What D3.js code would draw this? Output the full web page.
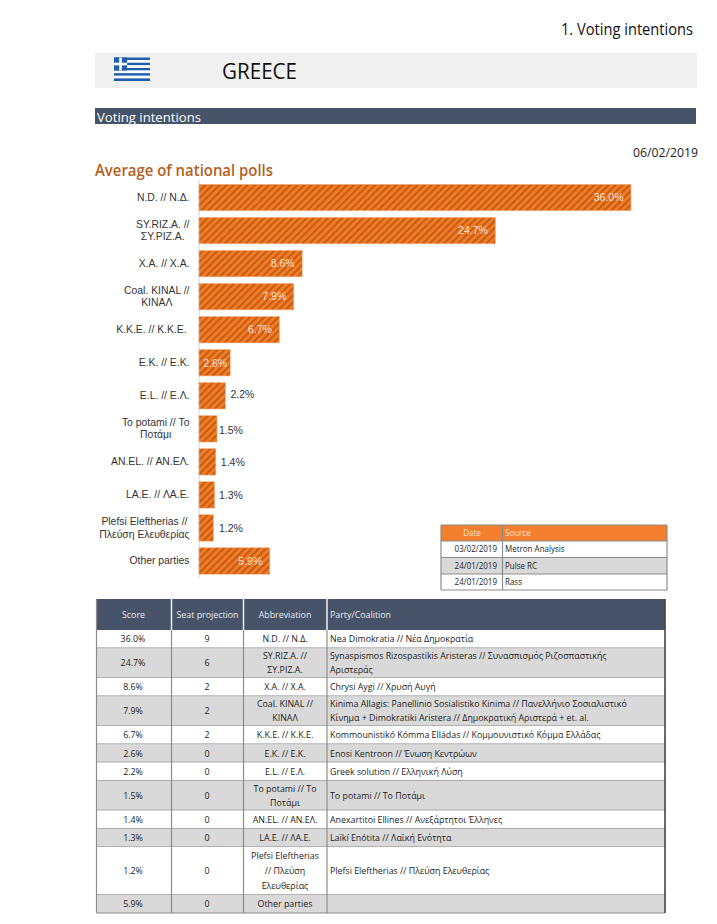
<!DOCTYPE html>
<html><head><meta charset="utf-8">
<script src="https://cdnjs.cloudflare.com/ajax/libs/d3/7.8.5/d3.min.js"></script>
<style>html,body{margin:0;padding:0;background:#fff}svg{display:block}text{white-space:pre}</style>
</head><body><div id="c"></div>
<script>
const barLabels = [["N.D. // Ν.Δ."],["SY.RIZ.A. //","ΣΥ.ΡΙΖ.Α."],["X.A. // Χ.Α."],["Coal. KINAL //","ΚΙΝΑΛ"],["K.K.E. // Κ.Κ.Ε. "],["E.K. // Ε.Κ."],["E.L. // Ε.Λ."],["To potami // Το","Ποτάμι"],["AN.EL. // ΑΝ.ΕΛ."],["LA.E. // ΛΑ.Ε."],["Plefsi Eleftherias //","Πλεύση Ελευθερίας"],["Other parties"]];
const scores = [36.0,24.7,8.6,7.9,6.7,2.6,2.2,1.5,1.4,1.3,1.2,5.9];
const seats = [9,6,2,2,2,0,0,0,0,0,0,0];
const abbreviations = [["N.D. // Ν.Δ."],["SY.RIZ.A. //","ΣΥ.ΡΙΖ.Α."],["X.A. // Χ.Α."],["Coal. KINAL //","ΚΙΝΑΛ"],["K.K.E. // Κ.Κ.Ε."],["E.K. // Ε.Κ."],["E.L. // Ε.Λ."],["To potami // Το","Ποτάμι"],["AN.EL. // ΑΝ.ΕΛ."],["LA.E. // ΛΑ.Ε."],["Plefsi Eleftherias","// Πλεύση","Ελευθερίας"],["Other parties"]];
const parties = [["Nea Dimokratia // Νέα Δημοκρατία"],["Synaspismos Rizospastikis Aristeras // Συνασπισμός Ριζοσπαστικής","Αριστεράς"],["Chrysi Aygi // Χρυσή Αυγή"],["Kinima Allagis: Panellinio Sosialistiko Kinima // Πανελλήνιο Σοσιαλιστικό","Κίνημα + Dimokratiki Aristera // Δημοκρατική Αριστερά + et. al."],["Kommounistikó Kómma Elládas // Κομμουνιστικό Κόμμα Ελλάδας"],["Enosi Kentroon // Ένωση Κεντρώων"],["Greek solution // Ελληνική Λύση"],["To potami // Το Ποτάμι"],["Anexartitoi Ellines // Ανεξάρτητοι Έλληνες"],["Laïkí Enótita // Λαϊκή Ενότητα"],["Plefsi Eleftherias // Πλεύση Ελευθερίας"],[""]];
const tableHeaders = ["Score","Seat projection","Abbreviation","Party/Coalition"];
const pollDates = ["03/02/2019","24/01/2019","24/01/2019"];
const pollSources = ["Metron Analysis","Pulse RC","Rass"];
const sourceHeaders = ["Date","Source"];

const W=717,H=924, NAVY="#475369", GREY="#d9d9d9", BORDER="#8c8c8c";
const UI="'Open Sans',sans-serif", ARIAL="'Liberation Sans',Arial,sans-serif";
const svg=d3.select("#c").append("svg").attr("width",W).attr("height",H).attr("viewBox",[0,0,W,H]);
const defs=svg.append("defs");
const pat=defs.append("pattern").attr("id","hatch").attr("patternUnits","userSpaceOnUse")
  .attr("width",5).attr("height",5).attr("patternTransform","rotate(45)");
pat.append("rect").attr("width",5).attr("height",5).attr("fill","#f77a1e");
pat.append("rect").attr("width",2.1).attr("height",5).attr("fill","#bd5f1e");

function txt(x,y,s,o={}){
  const t=svg.append("text").attr("x",x).attr("y",y).text(s)
    .attr("font-family",o.f||UI).attr("font-size",o.s||9).attr("fill",o.c||"#1a1a1a")
    .attr("text-anchor",o.a||"start").attr("font-weight",o.w||400);
  let len=o.l;
  if(o.q&&String(s).length) len=t.node().getComputedTextLength()*o.q;
  if(len) t.attr("textLength",len).attr("lengthAdjust","spacingAndGlyphs");
  return t;
}
const cell={s:9.5,q:.93,c:"#1c1c1c"};

// Header
txt(693,35,"1. Voting intentions",{s:17,a:"end",c:"#111",l:132});
svg.append("rect").attr("x",95).attr("y",53).attr("width",602).attr("height",35).attr("fill","#f0f0f0");
// Flag
const fx=114,fy=57.5,fw=36,fh=23.5,st=fh/9;
d3.range(9).forEach(i=>svg.append("rect").attr("x",fx).attr("y",fy+i*st).attr("width",fw).attr("height",st).attr("fill",i%2?"#fff":"#1f5fae"));
svg.append("rect").attr("x",fx).attr("y",fy).attr("width",st*5).attr("height",st*5).attr("fill","#1f5fae");
svg.append("rect").attr("x",fx+st*2).attr("y",fy).attr("width",st).attr("height",st*5).attr("fill","#fff");
svg.append("rect").attr("x",fx).attr("y",fy+st*2).attr("width",st*5).attr("height",st).attr("fill","#fff");
txt(222,79,"GREECE",{s:21,c:"#111",l:75,w:500});
svg.append("rect").attr("x",95).attr("y",108).attr("width",601).attr("height",16).attr("fill",NAVY);
txt(97,121.5,"Voting intentions",{s:13.5,c:"#fff",l:104,w:500});
txt(698,157,"06/02/2019",{s:12.5,a:"end",c:"#222",l:65});
txt(95,176,"Average of national polls",{s:16.5,c:"#b5601f",w:600,l:178});

// Bars
const x=d3.scaleLinear().domain([0,36]).range([199,631]);
const y=d3.scaleBand().domain(d3.range(scores.length)).range([181,577.5]).paddingInner(.2).paddingOuter(.1);
svg.append("line").attr("x1",199).attr("x2",199).attr("y1",180).attr("y2",578).attr("stroke","#e3e3e3").attr("stroke-width",1.5);
svg.append("g").selectAll("rect").data(scores).join("rect")
  .attr("x",x(0)).attr("y",(d,i)=>y(i)).attr("width",d=>x(d)-x(0)).attr("height",y.bandwidth())
  .attr("fill","url(#hatch)").attr("stroke","#f7b183").attr("stroke-width",.6);
const yAxis=svg.append("g").attr("font-family",ARIAL).attr("font-size",10.4).attr("fill","#333");
barLabels.forEach((ls,i)=>{
  const cy=y(i)+y.bandwidth()/2;
  const ts=ls.map((l,j)=>yAxis.append("text").attr("y",cy+(j-(ls.length-1)/2)*12.4+3.4).attr("text-anchor","middle").text(l));
  const widest=d3.max(ts,t=>t.node().getComputedTextLength());
  ts.forEach(t=>t.attr("x",189.5-widest/2));
});
const inside=d=>d>=2.5;
const outsideGap=d=>d>=2?5:d>=1.5?2:d>=1.4?5:d>=1.3?4.4:5.6;
svg.append("g").selectAll("text").data(scores).join("text")
  .attr("y",(d,i)=>y(i)+y.bandwidth()/2+3.8+(d==2.2?-2:d==1.5?1:0))
  .attr("x",d=>inside(d)?x(d)-(d<3?3:7.5):x(d)+outsideGap(d))
  .attr("text-anchor",d=>inside(d)?"end":"start")
  .attr("font-family",ARIAL).attr("font-size",10.5)
  .attr("fill",d=>inside(d)?"#fbe3d3":"#333").text(d=>d.toFixed(1)+"%");

// Source table
const sx=[441,502.5,667], sy=[525,541,557.5,574,590];
svg.append("rect").attr("x",sx[0]).attr("y",sy[0]).attr("width",sx[2]-sx[0]).attr("height",sy[1]-sy[0]).attr("fill","#f37f2f");
svg.append("rect").attr("x",sx[0]).attr("y",sy[2]).attr("width",sx[2]-sx[0]).attr("height",sy[3]-sy[2]).attr("fill",GREY);
sy.forEach(v=>svg.append("line").attr("x1",sx[0]).attr("x2",sx[2]).attr("y1",v).attr("y2",v).attr("stroke",BORDER).attr("stroke-width",1.2));
sx.forEach(v=>svg.append("line").attr("x1",v).attr("x2",v).attr("y1",sy[0]).attr("y2",sy[4]).attr("stroke",BORDER).attr("stroke-width",1.2));
const srcCell={s:8.6,q:.93,c:"#1c1c1c"};
txt(472,536,sourceHeaders[0],{...srcCell,a:"middle",c:"#fbe3d3"});
txt(505,536,sourceHeaders[1],{...srcCell,c:"#fbe3d3"});
pollDates.forEach((d,i)=>{txt(497,sy[i+1]+11,d,{...srcCell,a:"end"});txt(505,sy[i+1]+11,pollSources[i],srcCell);});

// Main table
const cols=[96.5,171.5,243.5,327,665];
const tblTop=599,headH=31,lineH={1:18.2,2:29.8,3:48};
const rowCount=d=>Math.max(d.a.length,d.p.length);
const rows=scores.map((s,i)=>({s,seat:seats[i],a:abbreviations[i],p:parties[i]}));
svg.append("rect").attr("x",cols[0]).attr("y",tblTop).attr("width",cols[4]-cols[0]).attr("height",headH).attr("fill",NAVY);
[1,2,3].forEach(i=>svg.append("line").attr("x1",cols[i]).attr("x2",cols[i]).attr("y1",tblTop).attr("y2",tblTop+headH).attr("stroke","#fff").attr("stroke-width",1.4));
const hc=[133.5,207.5,285];
tableHeaders.forEach((h,i)=>{ if(i<3) txt(hc[i],tblTop+19,h,{...cell,a:"middle",c:"#e8eaee"}); else txt(330,tblTop+19,h,{...cell,c:"#e8eaee"});});
let yy=tblTop+headH;
rows.forEach((r,i)=>{
  const n=rowCount(r),h=lineH[n];
  svg.append("rect").attr("x",cols[0]).attr("y",yy).attr("width",cols[4]-cols[0]).attr("height",h).attr("fill",i%2?GREY:"#fff");
  const mid=yy+h/2+3.2;
  txt(hc[0]-.5,mid,r.s.toFixed(1)+"%",{...cell,a:"middle"});
  txt(hc[1]-.5,mid,r.seat,{...cell,a:"middle"});
  const lh=n==3?15:14.3;
  r.a.forEach((l,j)=>txt(hc[2],mid+(j-(r.a.length-1)/2)*lh,l,{...cell,a:"middle"}));
  r.p.forEach((l,j)=>txt(330,mid+(j-(r.p.length-1)/2)*lh,l,cell));
  yy+=h;
  svg.append("line").attr("x1",cols[0]).attr("x2",cols[4]).attr("y1",yy).attr("y2",yy).attr("stroke",BORDER).attr("stroke-width",1.2);
});
cols.forEach((c,i)=>svg.append("line").attr("x1",c).attr("x2",c).attr("y1",i==0||i==4?tblTop:tblTop+headH).attr("y2",yy)
  .attr("stroke",i==4?"#444":BORDER).attr("stroke-width",i==4?1.6:1.2));
</script></body></html>
